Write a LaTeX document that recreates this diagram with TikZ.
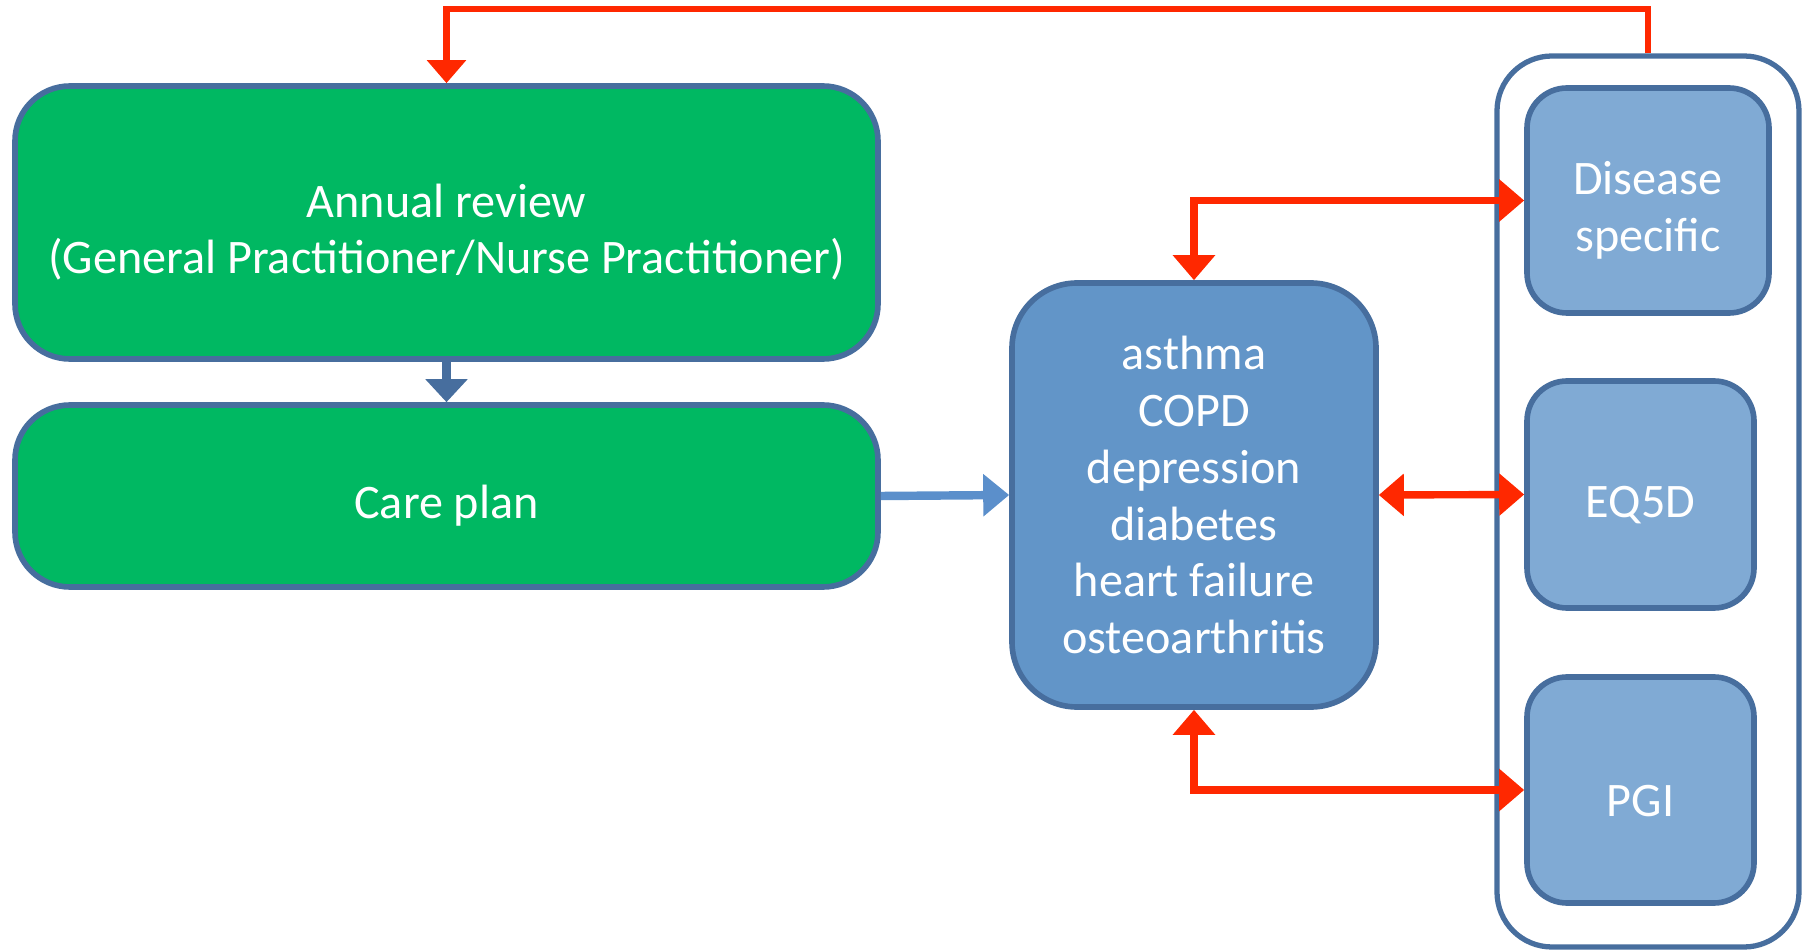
\documentclass[tikz,border=0pt]{standalone}
\usepackage{fontspec}
\setmainfont{Carlito}
\usetikzlibrary{shapes,arrows,arrows.meta,positioning}
\definecolor{boxgreen}{RGB}{0,184,98}
\definecolor{edgeblue}{RGB}{71,110,158}
\definecolor{midblue}{RGB}{98,149,200}
\definecolor{lightblue}{RGB}{128,170,212}
\definecolor{linkblue}{RGB}{91,143,203}
\definecolor{arrowred}{RGB}{255,40,0}
\newcommand{\lowstrut}{\rule{0pt}{15pt}}
\tikzstyle{greenblock}=[rectangle, draw=edgeblue, line width=1.6pt, fill=boxgreen, text=white, align=center, rounded corners=5.5mm, minimum width=8.63cm]
\tikzstyle{blueblock}=[rectangle, draw=edgeblue, line width=1.6pt, fill=midblue, text=white, align=center, rounded corners=6.5mm]
\tikzstyle{paleblock}=[rectangle, draw=edgeblue, line width=1.6pt, fill=lightblue, text=white, align=center, rounded corners=4mm]
\tikzstyle{redarrow}=[draw=arrowred, line width=2.1pt, {Triangle[length=2.5mm,width=4.1mm]}-{Triangle[length=2.5mm,width=4.1mm]}]

\begin{document}
\begin{tikzpicture}[every node/.style = {font=\fontsize{13.7}{16.2}\selectfont}]

\useasboundingbox (0,0) rectangle (18.06,9.49);

\node[rectangle, draw=edgeblue, line width=1.5pt, fill=white, rounded corners=5.5mm, minimum width=3.02cm, minimum height=8.91cm](box) at (16.48,4.475) {};

\node[greenblock, minimum height=2.73cm](rev) at (4.465,7.265) {\lowstrut Annual review\\(General Practitioner/Nurse Practitioner)};
\node[greenblock, minimum height=1.82cm](plan) at (4.465,4.53) {\lowstrut Care plan};
\node[blueblock, minimum width=3.64cm, minimum height=4.24cm](cond) at (11.94,4.54) {asthma\\COPD\\depression\\diabetes\\heart failure\\osteoarthritis};
\node[paleblock, minimum width=2.42cm, minimum height=2.25cm](dis) at (16.48,7.485) {\lowstrut Disease\\specific};
\node[paleblock, minimum width=2.27cm, minimum height=2.27cm](eq) at (16.405,4.545) {\lowstrut EQ5D};
\node[paleblock, minimum width=2.27cm, minimum height=2.26cm](pgi) at (16.405,1.59) {\lowstrut PGI};
\coordinate (top) at (16.48,9.40);

\draw[draw=arrowred, line width=1.8pt, -{Triangle[length=2.3mm,width=3.8mm]}](box.north) -- (top) -| (rev.north);
\draw[draw=edgeblue, line width=2.4pt, -{Triangle[length=2.3mm,width=4.1mm]}](rev.south) -- (plan.north);
\draw[draw=linkblue, line width=2.4pt, -{Triangle[length=2.6mm,width=4.1mm]}](plan.east) -- (cond.west);
\draw[redarrow](cond.north) |- (dis.west);
\draw[redarrow](cond.east) -- (eq.west);
\draw[redarrow](cond.south) |- (pgi.west);

\end{tikzpicture}
\end{document}
